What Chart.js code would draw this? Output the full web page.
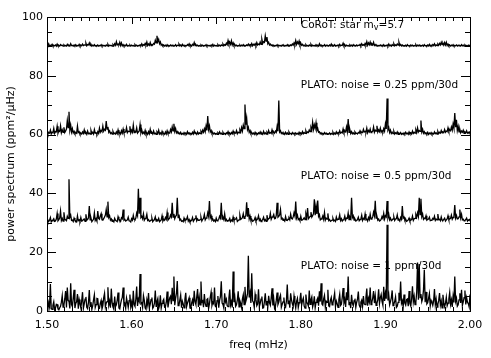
<!DOCTYPE html>
<html><head><meta charset="utf-8">
<script src="https://cdn.jsdelivr.net/npm/chart.js@4.4.0/dist/chart.umd.min.js"></script>
<style>html,body{margin:0;padding:0;background:#fff;}#wrap{width:491px;height:358px;}</style>
</head><body><div id="wrap"><canvas id="c" width="491" height="358"></canvas></div>
<script>
// frequency sampling of the spectra (mHz)
const FREQ_START = 1.5, FREQ_STEP = 0.001;
// vertical offsets of each spectrum (ppm^2/uHz)
const offsets = [90, 60, 30, 0];
// raw power above each offset
const corot = [
0.6,0.2,0.9,0.1,0.4,0.3,0.7,0.1,0.3,0.2,0.5,0.1,0.8,0.2,0.3,0.1,0.6,0.3,0.4,0.1,
0.5,0.2,0.3,0.1,0.7,0.2,0.4,0.1,0.9,0.3,0.3,0.1,0.5,0.2,0.6,0.1,0.3,0.2,0.7,0.1,
0.4,0.2,0.8,0.3,0.5,0.4,1.1,0.2,0.6,0.5,1.2,0.3,0.7,0.1,0.4,0.2,0.6,0.1,0.3,0.2,
0.5,0.1,0.3,0.2,0.6,0.1,0.4,0.2,0.3,0.1,0.5,0.2,0.7,0.1,0.4,0.3,0.3,0.1,0.6,0.2,
0.9,0.4,1.6,0.5,0.8,0.6,1.4,0.3,1.2,0.2,0.6,0.1,0.4,0.2,0.7,0.1,0.3,0.2,0.5,0.1,
0.4,0.2,0.3,0.1,0.6,0.2,0.4,0.1,0.3,0.2,0.5,0.3,0.9,0.2,0.6,0.4,1.0,0.5,1.5,0.3,
0.8,0.4,1.3,0.3,0.6,0.5,1.0,0.8,2.1,1.2,3.6,1.6,2.4,0.9,1.5,0.4,0.7,0.2,0.5,0.1,
0.4,0.1,0.6,0.2,0.3,0.1,0.5,0.2,0.4,0.1,0.3,0.2,0.6,0.1,0.4,0.3,0.8,0.2,0.5,0.1,
0.7,0.2,0.4,0.1,0.3,0.2,0.6,0.3,0.9,0.2,0.4,0.1,0.7,0.4,1.3,0.3,0.6,0.2,0.4,0.1,
0.3,0.1,0.5,0.2,0.4,0.1,0.3,0.2,0.6,0.1,0.4,0.2,0.3,0.1,0.5,0.2,0.7,0.1,0.4,0.2,
0.3,0.1,0.6,0.2,0.4,0.1,0.5,0.3,0.8,0.2,0.6,0.4,1.1,0.6,2.0,0.8,1.4,0.7,1.9,0.5,
1.2,0.3,0.6,0.2,0.4,0.1,0.3,0.2,0.5,0.1,0.4,0.2,0.6,0.1,0.3,0.2,0.5,0.3,0.8,0.2,
0.6,0.3,1.0,0.2,0.7,0.4,0.9,0.3,1.3,0.5,0.8,0.6,1.5,0.7,2.4,1.0,1.6,1.4,3.6,1.8,
3.2,0.9,1.4,0.5,0.8,0.3,0.5,0.2,0.4,0.1,0.3,0.2,0.6,0.1,0.4,0.2,0.3,0.1,0.5,0.2,
0.4,0.1,0.3,0.2,0.6,0.1,0.4,0.2,0.5,0.3,0.8,0.4,1.2,0.6,2.0,0.7,1.5,0.9,1.8,0.5,
1.1,0.4,0.7,0.2,0.4,0.1,0.6,0.2,0.3,0.1,0.5,0.2,0.7,0.1,0.4,0.2,0.3,0.1,0.6,0.2,
0.4,0.1,0.9,0.2,0.5,0.1,0.3,0.2,0.6,0.1,0.4,0.2,0.3,0.1,0.5,0.2,0.8,0.1,0.4,0.2,
0.6,0.1,0.3,0.2,0.5,0.1,0.7,0.2,0.4,0.3,1.1,0.2,0.6,0.1,0.4,0.2,0.3,0.1,0.5,0.2,
0.4,0.1,0.6,0.2,0.3,0.1,0.5,0.2,0.4,0.3,0.7,0.2,0.9,0.4,0.6,0.3,1.0,0.5,1.6,0.4,
1.2,0.6,1.5,0.4,0.9,0.5,1.4,0.3,0.6,0.2,0.4,0.1,0.3,0.2,0.5,0.1,0.4,0.2,0.6,0.1,
0.3,0.2,0.5,0.1,0.8,0.2,0.4,0.1,0.6,0.3,0.9,0.2,0.5,0.3,0.8,0.4,1.4,0.3,0.7,0.2,
0.5,0.1,0.3,0.2,0.4,0.1,0.6,0.2,0.3,0.1,0.5,0.2,0.4,0.1,0.3,0.2,0.6,0.1,0.4,0.2,
0.5,0.1,0.3,0.2,0.4,0.1,0.6,0.2,0.3,0.1,0.5,0.2,0.7,0.1,0.4,0.2,0.6,0.3,0.9,0.2,
0.5,0.3,0.8,0.4,1.0,0.5,1.4,0.6,1.1,0.4,1.3,0.5,1.4,0.3,0.8,0.2,0.5,0.1,0.4,0.2,
0.6,0.1,0.3,0.2,0.5,0.1,0.4,0.2,0.3,0.1,0.6,0.2,0.4,0.1,0.5,0.2,0.3,0.1,0.4,0.2,
0.5];
const plato025 = [
1.2,0.3,0.6,0.5,1.5,0.2,0.8,0.6,2.1,0.4,1.0,0.9,2.8,0.5,1.4,1.1,3.0,0.6,1.6,0.8,
2.5,0.7,1.2,1.9,4.8,2.4,7.8,1.5,3.2,0.9,2.0,0.6,1.1,0.3,0.6,0.4,2.9,0.7,1.0,0.2,
0.5,0.2,0.9,0.4,1.6,0.3,0.7,0.1,1.2,0.3,0.5,0.2,1.4,0.4,0.8,0.2,1.7,0.5,0.6,0.1,
1.0,0.4,2.2,0.8,1.4,1.0,2.9,1.2,1.8,1.5,4.6,1.9,2.6,0.8,1.3,0.4,0.7,0.2,1.1,0.3,
0.5,0.2,0.9,0.3,1.6,0.4,0.7,0.2,1.3,0.5,1.9,0.6,0.8,0.9,2.4,0.7,1.2,1.0,2.8,0.6,
1.5,0.8,3.2,0.7,1.1,0.9,2.3,0.5,0.9,1.2,3.4,0.6,1.6,0.4,0.8,0.3,1.4,0.2,0.6,0.1,
1.0,0.3,1.8,0.4,0.7,0.2,1.2,0.3,0.5,0.1,0.9,0.4,1.5,0.2,0.6,0.1,1.1,0.3,0.4,0.1,
0.9,0.2,1.3,0.4,0.6,0.5,1.7,0.9,2.6,1.3,3.7,1.1,2.1,0.6,1.0,0.3,0.6,0.2,0.8,0.1,
0.4,0.1,0.7,0.2,0.5,0.1,1.0,0.3,0.6,0.2,0.4,0.1,0.8,0.2,1.2,0.3,0.5,0.1,0.9,0.2,
0.6,0.3,1.1,0.5,1.5,0.8,2.0,1.0,2.9,1.4,6.3,1.8,3.0,0.9,1.4,0.4,0.7,0.2,0.5,0.1,
0.4,0.1,0.6,0.2,0.9,0.3,0.5,0.1,0.8,0.2,0.4,0.1,0.6,0.3,1.0,0.2,0.5,0.1,0.7,0.3,
1.2,0.4,0.6,0.5,1.4,0.3,0.8,0.6,1.6,0.9,2.4,1.2,3.2,2.0,10.2,3.4,5.6,1.7,2.5,0.8,
1.4,0.4,0.7,0.2,0.5,0.1,0.8,0.2,0.4,0.1,0.6,0.3,0.9,0.2,0.5,0.1,1.1,0.3,0.6,0.2,
0.8,0.3,1.4,0.5,0.7,0.4,1.6,0.6,0.9,0.5,1.2,0.8,2.8,1.1,11.6,0.9,1.3,0.4,0.7,0.2,
0.5,0.1,0.8,0.2,0.6,0.1,0.9,0.3,0.4,0.1,0.7,0.2,0.5,0.1,0.6,0.2,0.4,0.1,0.8,0.2,
0.6,0.2,1.0,0.3,0.7,0.4,1.3,0.5,0.9,0.7,1.6,1.0,2.4,1.5,4.2,1.8,3.3,2.1,4.0,1.4,
2.1,0.8,1.0,0.3,0.6,0.2,0.4,0.1,0.7,0.2,0.5,0.1,0.3,0.2,0.6,0.1,0.4,0.2,0.8,0.1,
0.5,0.2,0.9,0.3,0.7,0.4,1.3,0.5,0.8,0.6,1.9,0.7,1.2,0.9,2.6,1.0,5.3,0.8,1.7,0.4,
1.0,0.3,0.6,0.2,0.9,0.4,0.5,0.2,0.7,0.5,1.3,0.6,0.8,0.7,1.8,0.9,1.1,0.8,2.2,0.6,
1.4,0.9,1.9,0.7,1.0,1.1,2.6,0.8,1.5,1.2,3.0,0.9,1.6,1.0,2.2,0.8,1.3,0.9,2.0,1.2,
3.6,1.9,12.3,1.6,2.4,0.7,1.5,0.4,0.8,0.3,1.1,0.2,0.6,0.3,0.9,0.1,0.5,0.2,0.7,0.1,
0.4,0.1,0.6,0.2,0.8,0.3,0.5,0.1,0.9,0.3,0.6,0.2,1.2,0.4,0.8,0.5,1.6,0.7,2.3,0.9,
1.4,1.1,4.8,0.9,1.8,0.5,1.0,0.3,0.6,0.2,0.8,0.1,0.5,0.2,0.7,0.1,0.4,0.2,0.9,0.3,
0.6,0.2,1.1,0.4,0.8,0.5,1.4,0.6,0.9,0.7,1.7,0.8,1.2,1.0,2.3,1.1,1.6,1.3,2.6,1.5,
3.6,2.2,7.3,2.5,5.0,1.4,2.8,0.9,1.8,0.6,1.2,0.8,1.5,0.4,0.9,0.6,1.3,0.5,0.8,0.4,
1.1];
const plato05 = [
1.2,0.4,0.5,0.9,1.8,0.3,0.7,1.0,1.4,0.5,0.6,1.3,3.2,0.7,1.1,1.6,4.0,0.8,1.5,0.6,
3.6,1.2,1.0,0.7,2.2,1.5,14.8,1.9,2.6,0.8,0.9,0.4,1.6,0.9,0.6,0.3,2.4,0.7,1.0,0.5,
1.8,0.6,0.7,1.1,1.3,0.5,2.9,0.9,1.1,1.7,5.7,1.0,1.6,0.4,0.8,1.2,3.4,0.8,1.4,0.6,
4.0,1.5,1.2,2.3,3.1,1.0,0.9,1.4,2.0,2.6,4.5,2.0,7.2,1.8,2.4,0.9,1.3,0.5,0.7,0.3,
1.5,0.8,0.6,0.4,2.1,1.2,1.0,0.5,1.7,1.4,4.5,0.9,1.2,0.6,0.8,1.0,1.9,0.7,0.6,0.3,
1.4,0.9,2.5,1.1,1.0,1.6,3.3,2.4,11.6,3.1,8.5,1.8,2.2,1.4,3.0,0.9,1.4,1.7,2.9,0.8,
1.1,0.5,0.6,0.9,1.6,0.4,0.8,1.1,2.0,0.6,1.0,0.8,1.5,0.4,0.7,1.0,2.4,0.6,1.2,0.9,
1.8,1.2,3.5,0.9,1.3,1.6,2.6,2.0,6.8,1.9,3.0,1.4,2.2,2.6,8.5,1.8,2.8,0.9,1.2,0.5,
0.7,0.4,1.6,0.8,0.9,1.2,2.1,0.6,1.1,0.3,0.6,0.9,1.8,0.5,1.0,1.4,2.5,0.7,1.3,0.8,
0.8,1.1,1.9,0.6,1.2,1.5,2.8,1.0,1.6,1.9,3.4,2.2,7.4,1.7,2.4,0.9,1.3,0.6,0.9,0.4,
1.6,0.7,0.8,1.2,2.2,1.6,6.8,1.3,1.9,1.1,3.0,0.8,1.2,0.5,0.7,0.9,1.5,0.4,0.9,0.6,
2.0,0.8,1.1,1.3,1.7,0.5,0.8,1.0,2.6,1.2,1.4,1.8,3.1,1.5,2.0,2.4,7.0,2.1,5.0,1.3,
2.3,0.9,1.2,0.5,0.7,1.0,1.8,0.6,1.0,1.3,2.4,0.8,1.3,0.4,0.8,1.1,1.9,0.7,1.1,0.5,
2.6,1.0,1.4,1.6,3.2,1.2,1.9,2.1,2.8,1.4,1.5,2.5,6.8,1.9,2.2,2.7,4.5,1.3,1.6,0.8,
1.0,0.6,2.1,0.9,0.8,1.2,1.6,1.0,2.9,1.5,1.3,2.0,3.4,2.3,7.2,1.7,2.6,1.1,1.4,0.7,
2.2,0.9,1.0,1.3,1.7,1.1,3.0,1.8,5.0,1.4,1.8,2.2,3.6,1.9,2.4,3.1,8.0,2.6,5.6,3.0,
7.6,2.2,2.8,1.0,1.3,1.5,2.3,1.2,3.5,0.9,1.6,1.3,3.2,0.8,1.1,0.5,0.7,0.9,1.5,0.6,
0.9,0.5,2.0,1.0,1.2,1.4,2.7,0.8,1.4,0.6,1.0,1.2,2.3,0.9,1.6,1.5,3.3,1.1,2.0,1.4,
8.5,1.8,2.4,0.9,1.3,0.6,0.8,1.1,1.9,0.7,1.1,1.3,2.6,0.8,1.5,1.2,3.0,1.0,1.2,0.6,
1.8,1.1,2.9,1.3,1.4,2.0,3.6,2.4,7.5,1.6,2.2,0.9,1.3,0.6,0.8,1.2,2.1,1.5,3.2,1.3,
2.4,2.0,7.4,1.7,2.9,1.0,1.6,0.7,0.9,1.3,2.0,0.8,1.3,1.4,2.7,0.9,1.1,0.6,1.8,1.2,
5.7,1.6,2.0,0.9,1.2,0.5,0.7,1.0,1.6,0.6,0.9,1.1,2.3,0.8,1.4,1.5,2.8,1.9,3.4,2.2,
8.5,2.8,8.2,2.1,3.0,1.2,1.6,1.4,2.4,0.9,1.1,1.3,1.9,0.7,0.8,1.0,1.5,1.2,2.2,0.8,
1.3,1.0,3.0,1.1,1.2,0.7,2.0,0.9,0.8,1.2,1.6,0.6,1.0,1.3,2.4,1.1,1.3,1.5,2.6,1.2,
1.8,2.1,6.0,1.6,2.5,1.3,1.4,2.0,4.5,1.7,2.9,1.0,1.2,0.7,0.8,1.1,1.6,0.6,1.0,0.8,
1.4];
const plato1 = [
1.2,0.5,2.8,1.4,9.2,0.8,0.6,1.9,3.1,0.4,1.0,2.3,2.2,0.7,0.4,1.1,1.6,3.0,5.2,1.3,
2.0,4.1,6.8,1.2,8.0,3.6,3.3,0.9,9.4,2.2,1.5,4.4,7.2,1.0,2.6,3.1,5.8,0.8,3.9,2.5,
1.1,3.4,6.4,0.9,2.4,4.0,4.8,1.3,0.8,2.9,7.1,1.6,3.0,0.5,1.7,3.8,5.5,1.2,2.2,4.3,
4.2,1.0,0.9,2.6,3.6,0.7,1.8,4.5,6.0,1.4,2.7,3.2,8.1,2.0,3.4,1.1,7.6,2.8,1.3,0.6,
4.9,1.5,2.1,3.7,6.3,1.0,0.7,2.4,3.8,4.6,8.0,1.8,2.5,0.9,4.4,2.9,1.2,3.5,5.6,1.4,
3.0,0.8,6.9,2.2,1.6,4.0,8.3,1.7,4.1,3.3,12.6,2.5,2.8,1.2,5.2,3.6,1.0,0.6,3.7,2.1,
6.1,1.1,2.3,3.9,4.6,0.9,1.4,2.7,7.0,1.6,3.2,4.2,0.8,1.9,5.3,1.0,2.6,3.4,4.0,1.3,
1.5,3.0,6.6,1.2,3.1,4.4,5.0,2.3,7.9,3.5,11.7,2.0,4.3,6.1,10.2,1.8,2.0,3.7,5.4,1.1,
3.3,2.4,1.1,4.0,6.2,1.5,2.7,3.6,4.5,1.0,0.9,2.8,3.8,1.7,6.9,3.2,2.2,4.8,7.5,1.4,
4.6,2.1,10.0,3.0,3.4,1.3,5.8,2.6,1.6,3.9,4.2,0.8,2.4,4.7,6.4,1.9,3.0,2.5,8.0,1.6,
1.3,3.5,5.1,1.1,3.6,4.9,10.1,2.7,2.2,1.0,6.0,3.1,4.0,1.8,1.5,4.3,7.3,2.0,3.2,1.2,
13.4,3.0,4.8,1.6,2.1,3.8,6.7,1.4,3.5,2.6,1.2,4.1,5.5,2.2,8.2,3.3,4.4,5.9,18.8,4.6,
6.2,2.7,12.8,3.5,3.0,1.2,5.7,3.9,1.8,2.4,7.4,1.5,2.6,4.0,4.9,1.0,1.1,3.2,6.0,2.1,
3.4,1.4,5.2,2.8,2.0,4.3,7.7,1.9,4.1,0.9,1.6,3.6,6.3,2.2,3.0,4.5,5.4,1.3,2.3,3.1,
4.6,1.7,1.3,3.4,9.0,2.5,3.6,1.1,6.0,3.8,2.4,1.5,5.1,2.9,1.0,3.3,4.3,1.2,2.8,4.0,
6.2,2.0,3.5,4.4,1.7,1.0,5.6,3.0,2.5,1.6,7.0,2.3,3.9,4.8,1.4,2.6,5.0,1.1,2.9,3.7,
4.4,1.8,6.7,3.2,9.4,2.4,2.0,4.1,5.3,1.3,3.3,2.9,7.2,1.7,1.5,3.6,4.6,2.1,2.7,4.3,
6.1,1.5,3.4,2.5,1.2,3.9,5.7,1.9,2.3,4.6,7.8,2.8,4.0,1.4,6.4,3.7,11.7,2.2,3.1,1.0,
5.5,2.6,1.8,3.5,4.2,1.2,2.9,4.0,6.6,2.1,1.3,3.0,3.7,1.6,5.1,2.4,2.2,4.7,7.6,1.8,
4.3,3.1,8.0,2.2,3.0,4.4,6.8,2.7,5.2,1.9,2.6,3.8,7.4,2.5,4.5,5.6,3.3,2.0,8.2,3.4,
6.0,4.2,29.3,3.6,5.4,2.1,3.2,4.5,7.0,1.8,2.4,3.3,4.8,1.2,1.6,2.9,6.2,3.5,10.0,2.6,
3.5,1.4,5.6,2.7,2.0,3.9,4.1,1.6,6.8,2.5,1.7,4.2,8.4,3.1,5.0,2.2,3.0,6.4,16.5,3.8,
16.0,4.6,5.8,3.2,4.2,7.1,14.0,3.0,6.5,2.4,2.8,4.3,5.9,1.7,3.6,2.9,1.9,3.4,7.5,2.1,
4.0,1.3,2.3,3.6,6.1,2.0,3.4,1.1,5.5,3.0,1.5,2.6,4.7,1.8,2.7,4.1,6.3,2.3,3.8,1.4,
5.0,2.9,11.7,3.3,4.4,1.6,2.1,3.8,6.0,2.7,7.2,1.9,3.1,4.5,7.0,2.2,4.5,3.0,2.5,1.4,
5.6];
const spectra = [corot, plato025, plato05, plato1];
// panel labels (text segments; 'sub' = subscript), position in data units
const labelSegments = [
  [['CoRoT: star m',''],['v','sub'],['=5.7','']],
  [['PLATO: noise = 0.25 ppm/30d','']],
  [['PLATO: noise = 0.5 ppm/30d','']],
  [['PLATO: noise = 1 ppm/30d','']]
];
const labelX = 1.80;
const labelY = [97.3, 76.9, 45.7, 15.3];
const xTickLabels = ['1.50','1.60','1.70','1.80','1.90','2.00'];
const yTickLabels = ['0','20','40','60','80','100'];

const FONT = 'DejaVu Sans';
Chart.defaults.font.family = FONT;
Chart.defaults.font.size = 11;
Chart.defaults.color = '#000';

const datasets = spectra.map((arr, k) => ({
  data: arr.map((v, i) => ({x: FREQ_START + FREQ_STEP * i, y: offsets[k] + v})),
  borderColor: '#000', borderWidth: 1.3, pointRadius: 0, tension: 0, fill: false
}));

const frameTicks = {
  id: 'frameTicks',
  afterDatasetsDraw(chart) {
    const {ctx, chartArea: {left, right, top, bottom}, scales: {x, y}} = chart;
    ctx.save();
    ctx.strokeStyle = '#000'; ctx.lineWidth = 1;
    ctx.beginPath();
    for (let k = 0; k <= 50; k++) {
      const px = Math.round(x.getPixelForValue(1.5 + k * 0.01)) + 0.5;
      const len = (k % 10 === 0) ? 7 : 4;
      ctx.moveTo(px, bottom); ctx.lineTo(px, bottom - len);
      ctx.moveTo(px, top); ctx.lineTo(px, top + len);
    }
    for (let k = 0; k <= 20; k++) {
      const py = Math.round(y.getPixelForValue(k * 5)) + 0.5;
      const len = (k % 4 === 0) ? 9 : 5;
      ctx.moveTo(left, py); ctx.lineTo(left + len, py);
      ctx.moveTo(right, py); ctx.lineTo(right - len, py);
    }
    ctx.stroke();
    ctx.strokeRect(Math.round(left) + 0.5, Math.round(top) + 0.5, Math.round(right - left), Math.round(bottom - top));
    // panel labels
    ctx.fillStyle = '#000';
    ctx.textBaseline = 'middle';
    ctx.textAlign = 'left';
    labelSegments.forEach((segs, k) => {
      let cx = x.getPixelForValue(labelX);
      const cy = y.getPixelForValue(labelY[k]);
      segs.forEach(([t, kind]) => {
        if (kind === 'sub') {
          ctx.font = '8px ' + FONT;
          ctx.fillText(t, cx, cy + 3);
        } else {
          ctx.font = '10.5px ' + FONT;
          ctx.fillText(t, cx, cy);
        }
        cx += ctx.measureText(t).width;
      });
    });
    ctx.restore();
  }
};

new Chart(document.getElementById('c'), {
  type: 'line',
  data: {datasets},
  options: {
    responsive: false, animation: false, events: [],
    layout: {padding: {top: 17, right: 21, left: 0, bottom: 0}},
    plugins: {legend: {display: false}, tooltip: {enabled: false}},
    scales: {
      x: {
        type: 'linear', min: 1.5, max: 2.0,
        grid: {display: false, drawTicks: false}, border: {display: false},
        ticks: {stepSize: 0.1, padding: 8, maxRotation: 0, autoSkip: false,
          callback: (v, i) => xTickLabels[i]},
        title: {display: true, text: 'freq (mHz)', font: {size: 11}, padding: {top: 0, bottom: 6}},
        afterFit: s => { s.height = 47; }
      },
      y: {
        min: 0, max: 100,
        grid: {display: false, drawTicks: false}, border: {display: false},
        ticks: {stepSize: 20, padding: 4, callback: (v, i) => yTickLabels[i]},
        title: {display: true, text: 'power spectrum (ppm²/μHz)', font: {size: 11}, padding: {top: 5, bottom: 0}},
        afterFit: s => { s.width = 47; }
      }
    }
  },
  plugins: [frameTicks]
});
</script></body></html>
